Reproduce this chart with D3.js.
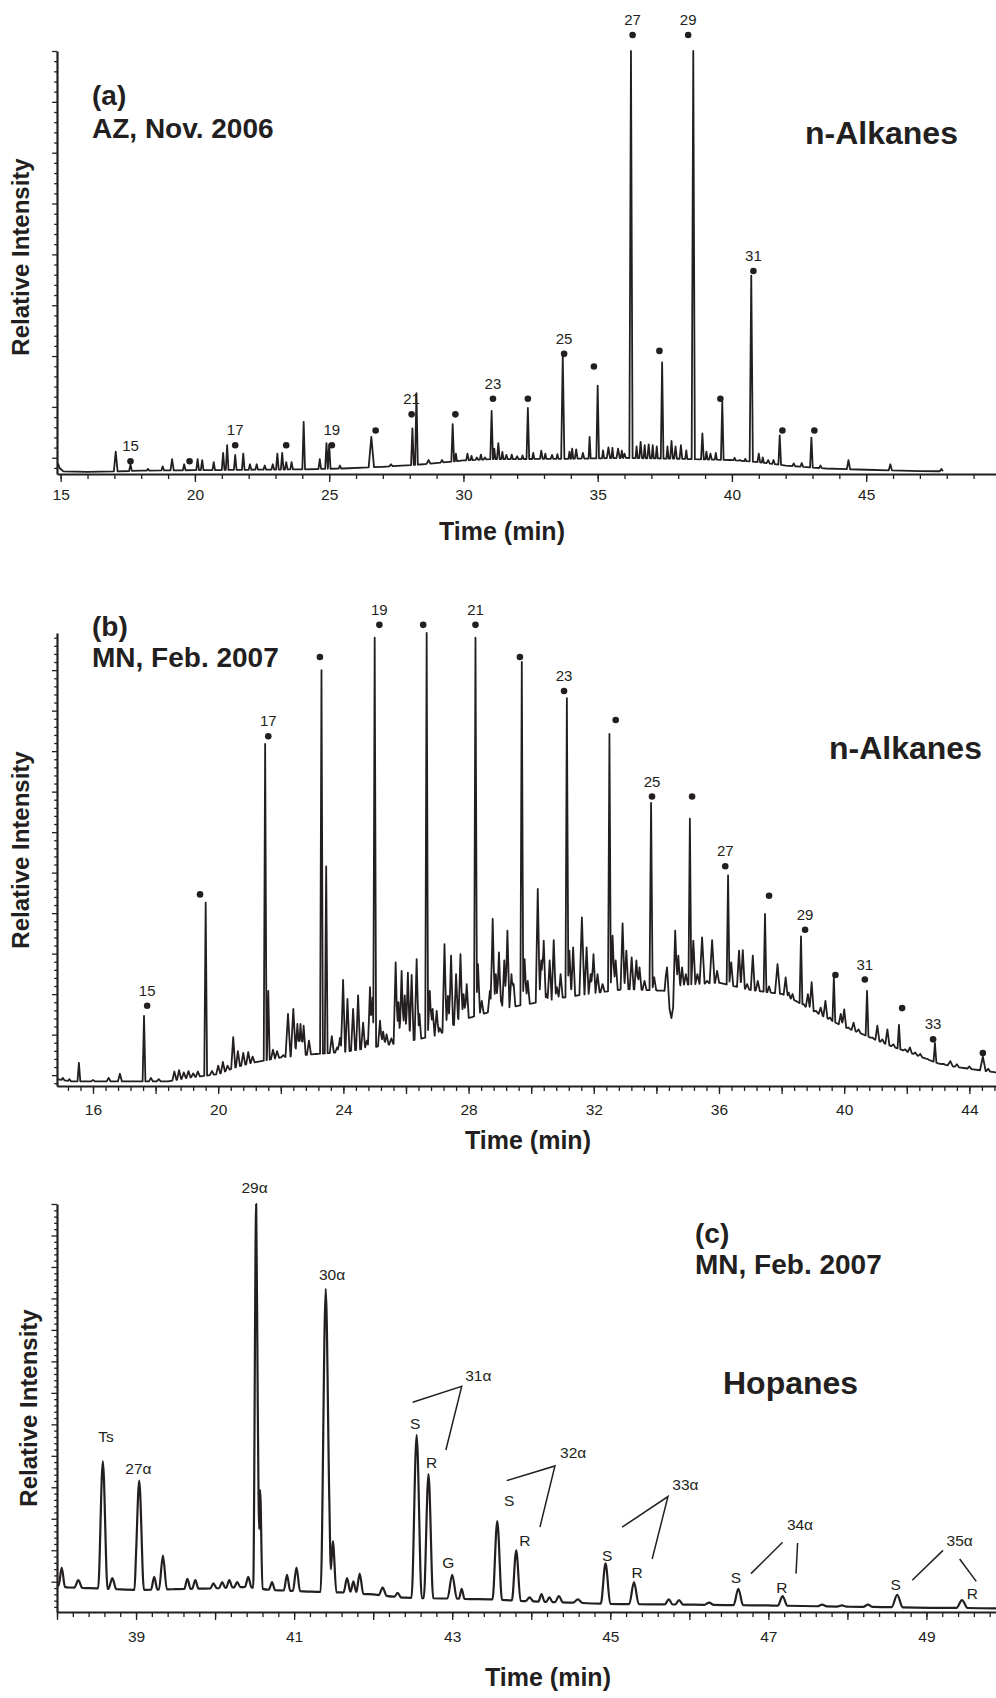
<!DOCTYPE html>
<html><head><meta charset="utf-8">
<script src="https://cdn.jsdelivr.net/npm/d3@7"></script>
<style>
body{margin:0;background:#fff}
text{font-family:"Liberation Sans",Arial,Helvetica,sans-serif;fill:#231f20}
</style>
</head><body><script>
// ---------------- DATA ----------------
// Panel (a): AZ, Nov. 2006 — n-alkanes. Intensity in % of axis height.
const aXTickLabels = [15,20,25,30,35,40,45];
const aBaseline = [[14.86,2.0],[15.1,0.6],[16,0.5],[17,0.6],[18,0.8],[20,0.9],[22,1.0],[24,1.1],[25.5,1.3],[27,1.7],[28.5,2.3],[30,3.2],[31,3.5],[34,3.6],[36,3.8],[38,3.6],[40,3.3],[41,2.8],[42,2.0],[43.5,1.3],[45,1.0],[47,0.7],[49.84,0.5]];
// [retention time, apex intensity, half width at base]
const aPeaks = [[14.9,2.5,.06],[17.05,5.3,.07],[17.6,2.3,.05],[18.25,1.2,.05],[18.8,1.8,.05],[19.15,3.5,.06],[19.6,2.3,.05],[20.1,3.5,.05],[20.27,3.3,.05],[20.7,2.8,.05],[21.05,5.0,.05],[21.2,6.8,.05],[21.5,4.5,.05],[21.8,4.8,.05],[22.05,2.3,.05],[22.3,2.3,.05],[22.6,2.0,.05],[22.9,2.3,.05],[23.07,4.8,.05],[23.25,5.0,.05],[23.4,2.8,.05],[23.6,2.8,.05],[24.05,12.3,.05],[24.65,3.5,.05],[24.9,7.3,.05],[25.0,7.0,.05],[25.4,2.0,.05],[26.57,8.8,.1],[27.3,2.3,.06],[28.1,10.8,.05],[28.25,19.1,.05],[28.7,3.3,.07],[29.2,3.3,.05],[29.6,11.8,.05],[29.72,4.8,.04],[30.15,4.8,.05],[30.3,4.3,.04],[30.5,3.9,.05],[30.65,4.6,.04],[30.8,3.9,.05],[31.05,14.9,.05],[31.15,6.0,.04],[31.3,7.3,.05],[31.45,5.2,.04],[31.6,4.5,.05],[31.8,4.6,.04],[32.0,4.2,.05],[32.2,4.4,.04],[32.4,15.6,.05],[32.6,5.0,.04],[32.9,5.5,.05],[33.05,4.8,.04],[33.3,4.5,.05],[33.5,4.7,.04],[33.7,28.0,.06],[33.95,5.3,.04],[34.05,6.0,.04],[34.2,5.8,.05],[34.45,5.0,.05],[34.7,8.8,.04],[35.0,20.9,.05],[35.2,5.6,.04],[35.4,6.3,.06],[35.55,6.2,.04],[35.76,6.0,.06],[35.9,5.5,.04],[36.0,4.8,.05],[36.24,100,.06],[36.45,6.5,.04],[36.6,7.6,.05],[36.75,6.8,.04],[36.9,7.0,.05],[37.05,6.8,.04],[37.2,6.5,.04],[37.4,26.4,.05],[37.6,6.5,.04],[37.75,7.8,.05],[37.9,6.5,.05],[38.1,6.8,.05],[38.3,5.6,.04],[38.56,100,.06],[38.9,9.6,.05],[39.05,5.3,.04],[39.2,4.8,.05],[39.4,5.0,.04],[39.64,17.1,.05],[39.97,3.3,.05],[40.1,3.8,.04],[40.3,3.3,.05],[40.5,3.6,.04],[40.72,46.9,.06],[41.0,4.8,.05],[41.15,3.9,.04],[41.35,3.3,.06],[41.55,3.3,.05],[41.78,9.1,.05],[42.3,2.5,.05],[42.6,2.6,.05],[42.96,8.6,.05],[43.3,2.0,.05],[44.34,3.3,.06],[45.9,2.3,.06],[47.8,1.2,.06]];
// n-alkane markers [time, intensity, carbon-number label]
const aDots = [[17.6,3.0,"15"],[19.8,3.0,""],[21.5,6.8,"17"],[23.4,6.8,""],[25.1,6.8,"19"],[26.73,10.3,""],[28.07,14.1,"21"],[29.7,14.1,""],[31.1,17.8,"23"],[32.4,17.8,""],[33.75,28.4,"25"],[34.86,25.4,""],[36.3,103.8,"27"],[37.3,29.1,""],[38.37,103.8,"29"],[39.57,17.8,""],[40.8,48,"31"],[41.88,10.3,""],[43.07,10.3,""]];

// Panel (b): MN, Feb. 2007 — n-alkanes
const bXTickLabels = [16,20,24,28,32,36,40,44];
const bBaseline = [[14.85,1.5],[15.3,1.0],[18.4,1.0],[19.0,1.8],[20.0,2.6],[20.5,4.0],[21,5.0],[22,6.3],[23,7.0],[24,7.5],[25,8.6],[26,9.8],[27,11.2],[27.5,13],[28,15],[28.5,16],[29,17],[30,18.2],[31,19.5],[32,20.5],[33,21.4],[34.3,21],[34.48,15],[34.62,21],[35,22.4],[36,22.8],[37,21.2],[38,20.3],[38.5,18.6],[39,16.6],[39.5,14.8],[40,13],[40.5,11.7],[41,10.2],[41.5,8.8],[42,7.6],[42.5,6.3],[43,5.0],[43.5,4.3],[44,3.8],[44.85,3.0]];
const bPeaks = [[15.04,1.8,.05],[15.25,1.5,.05],[15.55,5.1,.045],[16.0,1.3,.065],[16.5,1.8,.065],[16.86,2.7,.065],[17.63,15.5,.045],[17.85,1.8,.065],[18.1,1.5,.065],[18.6,3.2,.065],[18.75,3.5,.065],[18.9,3.0,.065],[19.05,3.3,.065],[19.2,2.8,.065],[19.35,3.2,.065],[19.6,40.5,.045],[19.8,3.3,.065],[20.0,4.5,.065],[20.15,5.3,.065],[20.3,4.5,.065],
[20.48,10.8,.065],[20.63,7.7,.065],[20.8,7.3,.065],[20.96,7.5,.065],[21.1,6.5,.065],
[21.5,75.5,.045],[21.6,21,.045],[21.75,8,.065],[21.88,7.7,.065],[22.08,6.8,.065],
[22.23,15.9,.08],[22.4,17,.08],[22.53,13.7,.065],[22.63,13.7,.065],[22.73,13.3,.065],[22.9,10,.065],[23.06,6.8,.065],
[23.3,91.8,.045],[23.45,48.5,.045],[23.63,11,.065],[23.8,8.5,.065],[23.89,10.6,.065],
[23.99,23.4,.065],[24.13,19.2,.065],[24.31,17,.065],[24.47,20,.065],[24.63,14,.065],[24.75,10,.065],[24.85,21.8,.065],[24.93,19.5,.05],
[25.0,99,.045],[25.17,14.4,.065],[25.27,12,.065],[25.38,11.4,.065],[25.53,10.5,.065],
[25.67,27.3,.065],[25.76,18.5,.055],[25.86,25.4,.065],[25.96,20,.065],[26.06,25,.065],[26.18,24.5,.065],[26.34,28,.065],[26.43,15.9,.055],
[26.66,100,.045],[26.76,21,.065],[26.85,17,.065],[26.98,16.6,.065],[27.08,12.8,.065],[27.23,31.3,.065],[27.34,19.9,.065],[27.44,28.8,.065],[27.51,13.6,.055],[27.6,24.7,.065],[27.66,15.1,.055],[27.74,29.1,.065],[27.84,20.3,.065],[27.94,22.5,.065],[28.04,15.1,.065],
[28.22,99,.045],[28.3,26.9,.065],[28.42,18.8,.065],[28.58,15.9,.065],[28.68,21,.065],[28.77,36.9,.065],[28.87,24.7,.065],[28.97,29.5,.065],[29.04,18.8,.055],[29.14,27.7,.065],[29.24,34.3,.065],[29.37,24.7,.065],[29.44,22.5,.055],[29.54,17.3,.065],
[29.7,93.6,.045],[29.79,28,.065],[29.89,23.2,.065],[30.04,17.8,.065],
[30.21,43.5,.065],[30.32,27.7,.065],[30.4,32.1,.065],[30.49,20.3,.055],[30.59,27.7,.065],[30.72,32.2,.065],[30.82,21.8,.065],[30.94,24.7,.065],
[31.14,85.6,.045],[31.22,29.9,.065],[31.34,30.6,.065],[31.49,18.4,.065],[31.62,37.2,.08],[31.77,30.6,.065],[31.9,24.7,.065],[31.99,29.1,.065],[32.12,24.7,.065],[32.28,22.5,.065],
[32.5,77.7,.045],[32.6,33.2,.065],[32.7,27.7,.065],[32.82,20.3,.055],[32.92,35.9,.065],[33.04,29.9,.065],[33.21,28.4,.065],[33.36,27.7,.065],[33.46,26.2,.065],[33.62,23.2,.065],
[33.83,62.5,.05],[33.93,24,.065],[34.09,21,.065],[34.19,18.8,.055],[34.34,26.2,.08],[34.6,34.3,.065],[34.7,28.8,.065],[34.82,26.2,.065],[34.94,24.7,.065],
[35.07,59,.045],[35.18,32.1,.065],[35.31,24.7,.065],[35.46,32.8,.08],[35.62,23.2,.065],[35.78,32.2,.08],[35.94,25.4,.065],[36.1,22.5,.065],
[36.29,46.5,.045],[36.39,27.3,.065],[36.54,20.6,.065],[36.64,29.9,.065],[36.76,30,.065],[36.9,22.5,.065],[37.08,28.8,.065],[37.24,23.2,.065],[37.37,20.6,.055],
[37.47,38,.045],[37.6,22,.055],[37.7,20.3,.055],[37.87,26.9,.08],[38.03,20.3,.065],[38.13,24,.065],[38.23,20.6,.055],[38.35,20.3,.055],[38.45,18.8,.055],
[38.62,33,.045],[38.7,18.1,.055],[38.84,20.3,.065],[38.96,22.9,.065],[39.1,16.6,.065],[39.25,17.3,.065],[39.4,18.8,.065],[39.55,15.1,.055],
[39.67,24,.045],[39.89,15.9,.065],[40.0,16.9,.065],[40.14,12.9,.065],[40.3,14,.065],[40.46,12.5,.065],
[40.73,21,.045],[40.9,10.7,.065],[41.06,13.3,.065],[41.22,10.3,.065],[41.38,12.5,.065],[41.57,9.2,.065],
[41.75,13.5,.045],[41.95,8.1,.065],[42.1,8.5,.065],[42.27,7.4,.065],[42.43,7.1,.065],[42.65,6,.065],
[42.9,9.5,.045],[43.17,4.9,.065],[43.39,5.5,.08],[43.6,4.8,.065],[44.0,4.3,.065],[44.43,6.5,.09],[44.6,3.8,.065]];
const bDots = [[17.73,17.7,"15"],[19.42,42.3,""],[21.6,77.2,"17"],[23.25,94.7,""],[25.15,101.8,"19"],[26.55,101.8,""],[28.22,101.8,"21"],[29.64,94.7,""],[31.05,87.2,"23"],[32.7,80.8,""],[33.86,63.9,"25"],[35.14,63.9,""],[36.2,48.5,"27"],[37.6,42,""],[38.75,34.5,"29"],[39.72,24.5,""],[40.66,23.5,"31"],[41.85,17.2,""],[42.84,10.3,"33"],[44.43,7.3,""]];

// Panel (c): MN, Feb. 2007 — hopanes
const cXTickLabels = [39,41,43,45,47,49];
const cBaseline = [[38.0,6.5],[38.15,6.0],[38.5,5.8],[39,5.4],[39.5,5.6],[40.0,5.8],[40.4,6.2],[40.7,5.4],[41.2,5.0],[41.6,4.8],[42.0,4.3],[42.4,3.5],[43.5,3.1],[44.0,2.6],[45.0,2.0],[46.0,1.8],[47.0,1.6],[48.0,1.3],[49.88,0.9]];
const cPeaks = [[38.06,10.9,.04],[38.27,7.8,.05],[38.58,36.9,.06],[38.7,8.3,.05],[39.04,32.2,.06],[39.23,8.6,.04],[39.34,13.8,.05],[39.65,8.1,.04],[39.75,7.8,.04],[39.98,7.0,.04],[40.09,7.3,.04],[40.18,7.8,.04],[40.28,7.3,.04],[40.42,8.6,.04],[40.52,100,.038],[40.57,29.9,.03],[40.72,7.3,.04],[40.91,9.1,.04],[41.03,10.9,.045],[41.4,79.2,.065],[41.49,17.4,.045],[41.67,8.3,.045],[41.75,7.5,.04],[41.83,9.4,.045],[42.12,6.0,.05],[42.31,4.7,.04],[42.55,43.4,.065],[42.7,33.8,.06],[43.0,9.1,.06],[43.12,5.7,.035],[43.57,22.3,.06],[43.81,15.1,.055],[43.98,3.6,.05],[44.13,4.4,.04],[44.23,3.6,.04],[44.35,3.9,.05],[44.59,3.1,.06],[44.94,11.9,.06],[45.3,7.3,.06],[45.74,3.1,.05],[45.87,2.9,.05],[46.25,2.3,.06],[46.62,5.7,.06],[47.18,3.9,.06],[47.68,1.8,.06],[47.93,1.6,.06],[48.26,1.8,.06],[48.63,4.2,.07],[49.45,2.9,.07]];
const cLabels = [[38.62,41.6,"Ts"],[39.03,33.8,"27α"],[40.5,102.6,"29α"],[41.48,81.3,"30α"],[42.53,44.9,"S"],[42.74,35.3,"R"],[43.33,56.6,"31α"],[42.95,10.9,"G"],[43.72,26,"S"],[43.92,16.1,"R"],[44.53,37.7,"32α"],[44.96,12.5,"S"],[45.34,8.3,"R"],[45.95,29.9,"33α"],[46.59,7,"S"],[47.17,4.7,"R"],[47.4,20,"34α"],[48.61,5.5,"S"],[49.58,3.1,"R"],[49.42,16.1,"35α"]];
const cBrackets = [[[42.5,51.4],[43.12,55.3],[42.92,39.7]],[[43.69,32.2],[44.3,35.8],[44.11,20.8]],[[45.15,20.8],[45.73,28.3],[45.53,13]],[[46.78,9.4],[47.18,17.1]],[[47.37,16.9],[47.35,9.4]],[[48.82,7.8],[49.21,15.1]],[[49.42,13],[49.63,7.5]]];

// ---------------- DRAWING ----------------
const INK = "#231f20";
const FONT = '"Liberation Sans", Arial, Helvetica, sans-serif';
const svg = d3.select("body").append("svg").attr("width",996).attr("height",1698);

function buildTrace(base, peaks, dom){
  const bs = d3.scaleLinear().domain(base.map(d=>d[0])).range(base.map(d=>d[1])).clamp(true);
  const ts = new Set(base.map(d=>d[0]));
  peaks.forEach(p=>{ts.add(+(p[0]-p[2]).toFixed(4)); ts.add(p[0]); ts.add(+(p[0]+p[2]).toFixed(4));});
  const arr = Array.from(ts).filter(t=>t>=dom[0]&&t<=dom[1]).sort((a,b)=>a-b);
  return arr.map(t=>{
    const b = bs(t); let v = b;
    peaks.forEach(p=>{const d=Math.abs(t-p[0]); if(d<p[2]){const h=(p[1]-bs(p[0]))*(1-d/p[2]); v=Math.max(v,b+h);}});
    return [t,v];
  });
}

function yTickSet(first, step){
  const minor=[], major=[];
  for(let k=-300;k<=300;k++){const v=first+k*step; if(v>=-0.01&&v<=100.01){(k%5===0?major:minor).push(v);}}
  return {minor, major};
}

function panel(P){
  const x = d3.scaleLinear().domain(P.xdom).range([57,996]);
  const y = d3.scaleLinear().domain([0,100]).range([P.bottom,P.top]);
  const g = svg.append("g");

  const pts = buildTrace(P.base, P.peaks, P.xdom);
  g.append("path").datum(pts).attr("fill","none").attr("stroke",INK)
    .attr("stroke-width",P.sw).attr("stroke-linejoin","round")
    .attr("d", d3.line().x(d=>x(d[0])).y(d=>y(d[1])).curve(P.curve));

  g.append("g").attr("transform",`translate(0,${P.bottom})`)
    .call(d3.axisBottom(x).tickValues(P.xMinor).tickSize(5).tickSizeOuter(0).tickFormat(""));
  const gxM = g.append("g").attr("transform",`translate(0,${P.bottom})`)
    .call(d3.axisBottom(x).tickValues(P.xMajor).tickSize(8).tickSizeOuter(0).tickPadding(P.xPad)
      .tickFormat(d=>P.xLabels.includes(d)?String(d):""));
  gxM.select(".domain").remove();
  const yt = yTickSet(P.yFirst, P.yStep);
  g.append("g").attr("transform","translate(57,0)")
    .call(d3.axisLeft(y).tickValues(yt.minor).tickSize(2.8).tickSizeOuter(0).tickFormat(""));
  const gyM = g.append("g").attr("transform","translate(57,0)")
    .call(d3.axisLeft(y).tickValues(yt.major).tickSize(P.yMajLen).tickSizeOuter(0).tickFormat(""));
  gyM.select(".domain").remove();
  g.selectAll(".domain").attr("stroke",INK).attr("stroke-width",2.2);
  g.selectAll(".tick line").attr("stroke",INK).attr("stroke-width",1.3);
  g.selectAll(".tick text").attr("font-family",FONT).attr("font-size",15.5).attr("fill",INK);

  g.append("text").attr("x",P.xTitleX).attr("y",P.xTitleY).attr("text-anchor","middle")
    .attr("font-weight","bold").attr("font-size",25).text("Time (min)");
  g.append("text").attr("transform",`translate(${P.yTitleX},${P.yTitleY}) rotate(-90)`)
    .attr("text-anchor","middle").attr("font-weight","bold").attr("font-size",24).text("Relative Intensity");
  P.texts.forEach(t=>{
    g.append("text").attr("x",t[0]).attr("y",t[1]).attr("font-weight","bold").attr("font-size",t[3]).text(t[2]);
  });

  if(P.dots){
    g.selectAll("circle.d").data(P.dots).enter().append("circle")
      .attr("cx",d=>x(d[0])).attr("cy",d=>y(d[1])).attr("r",3.3).attr("fill",INK);
    g.selectAll("text.dl").data(P.dots.filter(d=>d[2])).enter().append("text")
      .attr("x",d=>x(d[0])).attr("y",d=>y(d[1])-10).attr("text-anchor","middle")
      .attr("font-size",15).text(d=>d[2]);
  }
  if(P.labels){
    g.selectAll("text.pl").data(P.labels).enter().append("text")
      .attr("x",d=>x(d[0])).attr("y",d=>y(d[1])).attr("text-anchor","middle")
      .attr("font-size",15.5).text(d=>d[2]);
  }
  if(P.brackets){
    g.selectAll("path.br").data(P.brackets).enter().append("path")
      .attr("fill","none").attr("stroke",INK).attr("stroke-width",1.5)
      .attr("d",d3.line().x(d=>x(d[0])).y(d=>y(d[1])));
  }
}

panel({xdom:[14.863,49.835], top:51, bottom:474, base:aBaseline, peaks:aPeaks, dots:aDots, sw:1.8, curve:d3.curveLinear,
  xMinor:d3.range(15,50,1), xMajor:[15,20,25,30,35,40,45], xLabels:aXTickLabels, xPad:7.3,
  yFirst:100, yStep:2.404, yMajLen:4.8,
  xTitleX:502, xTitleY:540, yTitleX:29, yTitleY:257,
  texts:[[92,105,"(a)",28],[92,138,"AZ, Nov. 2006",28],[805,144,"n-Alkanes",32]]});

panel({xdom:[14.85,44.85], top:633, bottom:1086, base:bBaseline, peaks:bPeaks, dots:bDots, sw:1.8, curve:d3.curveLinear,
  xMinor:d3.range(38,113).map(k=>+(k*0.4).toFixed(1)), xMajor:d3.range(16,45,2), xLabels:bXTickLabels, xPad:9.5,
  yFirst:91.8, yStep:1.788, yMajLen:5,
  xTitleX:528, xTitleY:1149, yTitleX:29, yTitleY:850,
  texts:[[92,636,"(b)",28],[92,667,"MN, Feb. 2007",28],[829,759,"n-Alkanes",32]]});

panel({xdom:[38.0,49.88], top:1204, bottom:1612, base:cBaseline, peaks:cPeaks, labels:cLabels, brackets:cBrackets, sw:2.2, curve:d3.curveMonotoneX,
  xMinor:d3.range(190,250).map(k=>+(k*0.2).toFixed(1)), xMajor:d3.range(38,50,1), xLabels:cXTickLabels, xPad:11.3,
  yFirst:100, yStep:1.543, yMajLen:5.5,
  xTitleX:548, xTitleY:1686, yTitleX:37, yTitleY:1408,
  texts:[[695,1243,"(c)",28],[695,1274,"MN, Feb. 2007",28],[723,1394,"Hopanes",32]]});
</script></body></html>
